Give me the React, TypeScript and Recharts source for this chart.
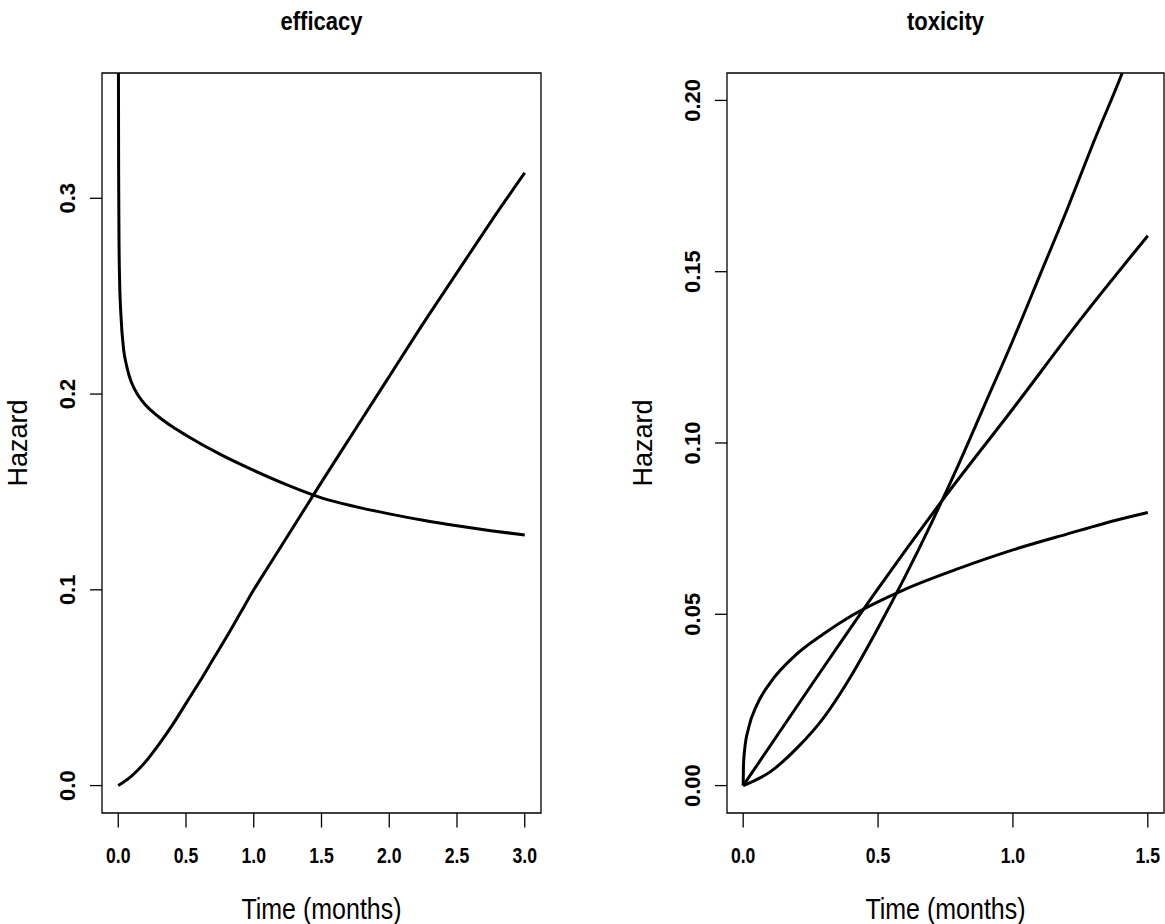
import React from 'react';
import { LineChart, Line, XAxis, YAxis, ReferenceArea, Customized } from 'recharts';

// ---------- data ----------
const efficacyDecreasing = [
  { t: 0.0005, h: 0.5 }, { t: 0.0015, h: 0.36 }, { t: 0.003, h: 0.31 }, { t: 0.006, h: 0.275 },
  { t: 0.01, h: 0.258 }, { t: 0.02, h: 0.24 }, { t: 0.04, h: 0.2225 }, { t: 0.06, h: 0.215 },
  { t: 0.08, h: 0.2095 }, { t: 0.1, h: 0.2055 }, { t: 0.15, h: 0.199 }, { t: 0.2, h: 0.1945 },
  { t: 0.3, h: 0.1883 }, { t: 0.4, h: 0.1833 }, { t: 0.5, h: 0.179 }, { t: 0.75, h: 0.1693 },
  { t: 1.0, h: 0.161 }, { t: 1.25, h: 0.1535 }, { t: 1.5, h: 0.147 }, { t: 1.75, h: 0.1425 },
  { t: 2.0, h: 0.1388 }, { t: 2.25, h: 0.1355 }, { t: 2.5, h: 0.1327 }, { t: 2.75, h: 0.1302 },
  { t: 3.0, h: 0.128 },
];
const efficacyIncreasing = [
  { t: 0, h: 0 }, { t: 0.1, h: 0.005 }, { t: 0.2, h: 0.012 }, { t: 0.3, h: 0.021 },
  { t: 0.4, h: 0.031 }, { t: 0.5, h: 0.042 }, { t: 0.6, h: 0.053 }, { t: 0.7, h: 0.0645 },
  { t: 0.8, h: 0.076 }, { t: 0.9, h: 0.088 }, { t: 1.0, h: 0.1 }, { t: 1.1, h: 0.111 },
  { t: 1.2, h: 0.122 }, { t: 1.3, h: 0.133 }, { t: 1.4, h: 0.144 }, { t: 1.5, h: 0.155 },
  { t: 1.75, h: 0.182 }, { t: 2.0, h: 0.209 }, { t: 2.25, h: 0.236 }, { t: 2.5, h: 0.262 },
  { t: 2.75, h: 0.288 }, { t: 3.0, h: 0.313 },
];
const toxicityConcave = [
  { t: 0, h: 0 }, { t: 0.001, h: 0.0057 }, { t: 0.005, h: 0.0102 }, { t: 0.02, h: 0.0168 },
  { t: 0.05, h: 0.0234 }, { t: 0.1, h: 0.03 }, { t: 0.2, h: 0.0385 }, { t: 0.3, h: 0.0444 },
  { t: 0.4, h: 0.0495 }, { t: 0.6, h: 0.0573 }, { t: 0.8, h: 0.0634 }, { t: 1.0, h: 0.0688 },
  { t: 1.2, h: 0.0734 }, { t: 1.4, h: 0.0778 }, { t: 1.5, h: 0.0797 },
];
const toxicityLinear = [
  { t: 0, h: 0 }, { t: 0.25, h: 0.029 }, { t: 0.5, h: 0.0575 }, { t: 0.75, h: 0.0845 },
  { t: 1.0, h: 0.11 }, { t: 1.25, h: 0.136 }, { t: 1.5, h: 0.1605 },
];
const toxicityConvex = [
  { t: 0, h: 0 }, { t: 0.1, h: 0.004 }, { t: 0.2, h: 0.011 }, { t: 0.3, h: 0.02 },
  { t: 0.4, h: 0.032 }, { t: 0.5, h: 0.046 }, { t: 0.6, h: 0.061 }, { t: 0.7, h: 0.077 },
  { t: 0.8, h: 0.094 }, { t: 0.9, h: 0.112 }, { t: 1.0, h: 0.13 }, { t: 1.1, h: 0.149 },
  { t: 1.2, h: 0.168 }, { t: 1.3, h: 0.188 }, { t: 1.4, h: 0.207 }, { t: 1.5, h: 0.228 },
];

const efficacyXTicks = [0, 0.5, 1, 1.5, 2, 2.5, 3];
const efficacyYTicks = [0, 0.1, 0.2, 0.3];
const toxicityXTicks = [0, 0.5, 1, 1.5];
const toxicityYTicks = [0, 0.05, 0.1, 0.15, 0.2];

const titles = ['efficacy', 'toxicity'];
const xLabel = 'Time (months)';
const yLabel = 'Hazard';

// ---------- styling ----------
const FONT = '"Liberation Sans", Arial, Helvetica, sans-serif';
const INK = '#000';

type PanelProps = {
  left: number;
  width: number;
  plotLeft: number;
  plotRight: number;
  xDomain: [number, number];
  yDomain: [number, number];
  xTicks: number[];
  yTicks: number[];
  xDigits: number;
  yDigits: number;
  title: string;
  series: { t: number; h: number }[][];
};

const H = 924;
const PLOT_TOP = 73;
const PLOT_BOTTOM = 813;

function Panel(p: PanelProps) {
  const xTick = (props: any) => {
    const { x, y, payload } = props;
    return (
      <g transform={`translate(${x},${y + 35}) scale(0.88,1.1)`}>
        <text x={0} y={0} textAnchor="middle" fontFamily={FONT} fontWeight="bold" fontSize={20} fill={INK}>
          {Number(payload.value).toFixed(p.xDigits)}
        </text>
      </g>
    );
  };
  const yTick = (props: any) => {
    const { x, y, payload } = props;
    return (
      <g transform={`translate(${x - 15},${y}) rotate(-90)`}>
        <text x={0} y={0} textAnchor="middle" fontFamily={FONT} fontWeight="bold" fontSize={22} fill={INK}>
          {Number(payload.value).toFixed(p.yDigits)}
        </text>
      </g>
    );
  };
  const cx = (p.plotLeft + p.plotRight) / 2;
  const cy = (PLOT_TOP + PLOT_BOTTOM) / 2;
  const Texts = () => (
    <g>
      <g transform={`translate(${cx},30) scale(1,1.15)`}>
        <text x={0} y={0} textAnchor="middle" fontFamily={FONT} fontWeight="bold" fontSize={22} fill={INK}>
          {p.title}
        </text>
      </g>
      <g transform={`translate(${cx},${919}) scale(1,1.15)`}>
        <text x={0} y={0} textAnchor="middle" fontFamily={FONT} fontSize={25} fill={INK}>
          {xLabel}
        </text>
      </g>
      <g transform={`translate(${p.plotLeft - 75},${cy}) rotate(-90)`}>
        <text x={0} y={0} textAnchor="middle" fontFamily={FONT} fontSize={27} fill={INK}>
          {yLabel}
        </text>
      </g>
    </g>
  );
  return (
    <div style={{ position: 'absolute', left: p.left, top: 0, width: p.width, height: H }}>
      <LineChart
        width={p.width}
        height={H}
        margin={{ top: PLOT_TOP, right: p.width - p.plotRight, bottom: 0, left: 0 }}
      >
        <XAxis
          type="number"
          dataKey="t"
          domain={p.xDomain}
          ticks={p.xTicks}
          interval={0}
          allowDataOverflow
          axisLine={false}
          tickLine={{ stroke: INK, strokeWidth: 1.3 }}
          tickSize={14.5}
          tickMargin={0}
          height={H - PLOT_BOTTOM}
          tick={xTick}
        />
        <YAxis
          type="number"
          dataKey="h"
          domain={p.yDomain}
          ticks={p.yTicks}
          interval={0}
          allowDataOverflow
          axisLine={false}
          tickLine={{ stroke: INK, strokeWidth: 1.3 }}
          tickSize={12}
          tickMargin={0}
          width={p.plotLeft}
          tick={yTick}
        />
        <ReferenceArea
          x1={p.xDomain[0]}
          x2={p.xDomain[1]}
          y1={p.yDomain[0]}
          y2={p.yDomain[1]}
          fill="none"
          stroke={INK}
          strokeWidth={1.3}
          ifOverflow="visible"
        />
        {p.series.map((d, i) => (
          <Line
            key={i}
            data={d}
            dataKey="h"
            type="monotone"
            stroke={INK}
            strokeWidth={3}
            dot={false}
            activeDot={false}
            isAnimationActive={false}
          />
        ))}
        <Customized component={<Texts />} />
      </LineChart>
    </div>
  );
}

export default function App() {
  return (
    <div style={{ position: 'absolute', left: 0, top: 0, width: 1165, height: 924, background: '#fff', overflow: 'hidden' }}>
      <Panel
        left={0}
        width={580}
        plotLeft={102}
        plotRight={541}
        xDomain={[-0.12, 3.12]}
        yDomain={[-0.014, 0.364]}
        xTicks={efficacyXTicks}
        yTicks={efficacyYTicks}
        xDigits={1}
        yDigits={1}
        title={titles[0]}
        series={[efficacyDecreasing, efficacyIncreasing]}
      />
      <Panel
        left={580}
        width={585}
        plotLeft={147}
        plotRight={584}
        xDomain={[-0.06, 1.56]}
        yDomain={[-0.008, 0.208]}
        xTicks={toxicityXTicks}
        yTicks={toxicityYTicks}
        xDigits={1}
        yDigits={2}
        title={titles[1]}
        series={[toxicityConcave, toxicityLinear, toxicityConvex]}
      />
    </div>
  );
}
